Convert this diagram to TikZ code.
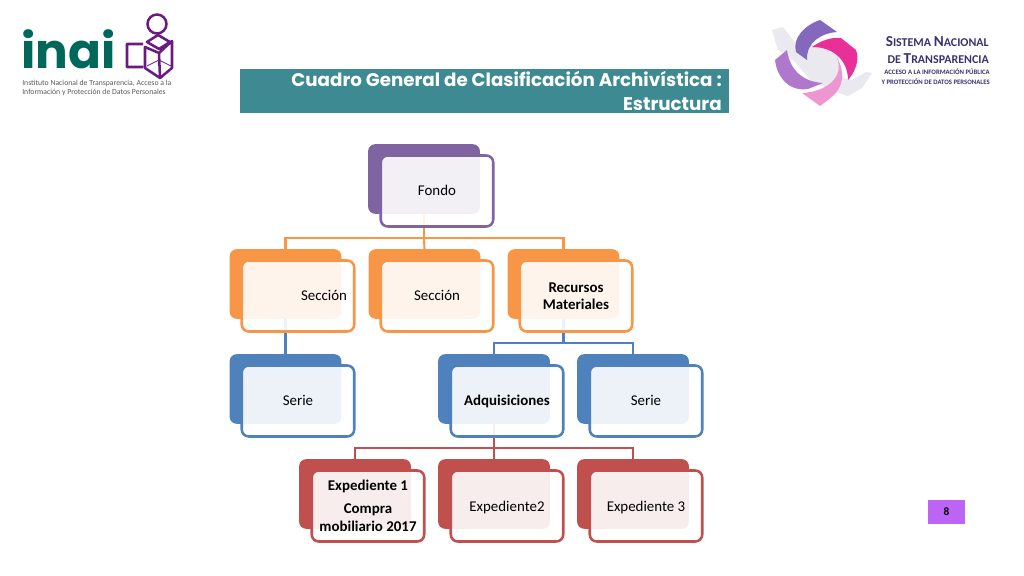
\documentclass[tikz,border=0pt]{standalone}
\usepackage{fontspec}
\setmainfont{Carlito}
\newfontfamily\titlefont{Poppins}
\usetikzlibrary{%
	positioning,%
	calc
}
\definecolor{fondocol}{RGB}{128,100,162}
\definecolor{seccioncol}{RGB}{247,150,70}
\definecolor{seriecol}{RGB}{79,129,189}
\definecolor{expedcol}{RGB}{192,80,77}
\definecolor{inaigreen}{RGB}{0,104,90}
\definecolor{inaipurple}{RGB}{106,27,130}
\definecolor{titlebar}{RGB}{62,138,146}
\definecolor{snnavy}{RGB}{60,48,112}
\definecolor{pagepurple}{RGB}{190,100,245}
\definecolor{wheela}{RGB}{132,104,190}
\definecolor{wheelb}{RGB}{232,48,150}
\definecolor{wheelc}{RGB}{176,120,205}
\definecolor{wheeld}{RGB}{238,150,208}
\definecolor{mappale}{RGB}{233,233,239}
\tikzset{
	backcard/.style={fill=#1,rounded corners=5pt,minimum width=79.5pt,minimum height=49.5pt,inner sep=0pt},
	frontcard/.style={draw=#1,line width=1.8pt,fill=white,fill opacity=.9,text opacity=1,rounded corners=5pt,
		minimum width=80pt,minimum height=50.5pt,inner sep=0pt,align=center,font=\fontsize{10.6}{12.4}\selectfont},
	link/.style={draw=#1,line width=1.5pt},
	pinwheel/.style={fill=#1,draw=none},
}
% back card, then name of the front one
\newcommand{\backcard}[4]{\node[backcard=#4] (#1) at (#2,#3) {};}
\newcommand{\frontcard}[5]{\node[frontcard=#4] (#1) at (#2,#3) {#5};}
\newcommand{\cardline}[2]{\raisebox{-#1pt}[0pt][0pt]{#2}}
\newcommand{\sntcap}[1]{{\fontsize{10.8}{12}\selectfont #1}}
\begin{document}
\begin{tikzpicture}[x=0.025cm,y=-0.025cm]
	\useasboundingbox (0,0) rectangle (1024,576);

	% Back cards
	\backcard{fondoB}{424}{179}{fondocol}
	\backcard{secaB}{285.5}{284}{seccioncol}
	\backcard{secbB}{424.5}{284}{seccioncol}
	\backcard{reccB}{563.5}{284}{seccioncol}
	\backcard{seraB}{285.5}{389}{seriecol}
	\backcard{adqB}{494}{389}{seriecol}
	\backcard{serbB}{633}{389}{seriecol}
	\backcard{expaB}{355}{494}{expedcol}
	\backcard{expbB}{494}{494}{expedcol}
	\backcard{expcB}{633}{494}{expedcol}

	% Connectors
	\draw[link=seccioncol] (fondoB.south) -- ++(0,24) coordinate (busa);
	\draw[link=seccioncol] (secaB.north) |- (busa) -| (reccB.north);
	\draw[link=seccioncol] (busa) -- (secbB.north);
	\draw[link=seriecol] (secaB.south) -- (seraB.north);
	\draw[link=seriecol] (reccB.south) -- ++(0,24) coordinate (busb);
	\draw[link=seriecol] (adqB.north) |- (busb) -| (serbB.north);
	\draw[link=expedcol] (adqB.south) -- ++(0,24) coordinate (busc);
	\draw[link=expedcol] (expaB.north) |- (busc) -| (expcB.north);
	\draw[link=expedcol] (busc) -- (expbB.north);

	% Front cards
	\frontcard{fondo}{437}{191}{fondocol}{\cardline{3.4}{Fondo}}
	\frontcard{seca}{298}{296}{seccioncol}{\hspace*{37pt}\cardline{3.4}{Sección}}
	\frontcard{secb}{437}{296}{seccioncol}{\cardline{3.4}{Sección}}
	\frontcard{recc}{576}{296}{seccioncol}{\textbf{Recursos}\\[-.5pt]\textbf{Materiales}}
	\frontcard{sera}{298}{401}{seriecol}{\cardline{3.4}{Serie}}
	\frontcard{adq}{507}{401}{seriecol}{\cardline{3.4}{\textbf{Adquisiciones}}}
	\frontcard{serb}{646}{401}{seriecol}{\cardline{3.4}{Serie}}
	\frontcard{expa}{368}{506}{expedcol}{\textbf{Expediente 1}\\[4pt]\textbf{Compra}\\\textbf{mobiliario 2017}}
	\frontcard{expb}{507}{506}{expedcol}{\cardline{4.1}{Expediente2}}
	\frontcard{expc}{646}{506}{expedcol}{\cardline{4.1}{Expediente 3}}

	% Title
	\node[fill=titlebar,minimum width=347.5pt,minimum height=31.4pt,inner sep=0pt] (titlebox) at (484.5,91) {};
	\node[text=white,align=right,anchor=east,inner sep=0pt,font=\titlefont\bfseries\fontsize{13}{17}\selectfont] (titletxt) at (722,91)
		{Cuadro General de Clasificación Archivística :\\Estructura};

	% Page number
	\node[fill=pagepurple,minimum width=26.5pt,minimum height=17pt,inner sep=0pt,font=\bfseries\fontsize{8}{10}\selectfont] (pagebox) at (946.5,512) {8};

	% INAI logo
	\node[text=inaigreen,font=\titlefont\bfseries\fontsize{34.5}{35}\selectfont,anchor=base west,inner sep=0pt] (inaiword) at (21,69) {inai};
	\draw[inaipurple,line width=1.8pt] (157,24) circle (9.5);
	\draw[inaipurple,line width=1.8pt,line join=round]
		(143,44) -- (127,44) -- (127,67) -- (143,67)
		(147,42) -- (158,35) -- (170,42) -- (159,49) -- cycle
		(145,47) -- (145,68) -- (160,78) -- (159,53) -- cycle
		(159,53) -- (172,41) -- (172,68) -- (160,78);
	\draw[inaipurple,line width=.6pt] (147,66) -- (159,60) -- (171,66);
	\node[text=black!65,align=left,anchor=north west,inner sep=0pt,font=\fontsize{5.5}{6.6}\selectfont] (inaitxt) at (22,80)
		{Instituto Nacional de Transparencia, Acceso a la\\Información y Protección de Datos Personales};

	% SNT logo
	\fill[mappale] (772,30) -- (783,27) -- (797,45) -- (815,45) -- (838,55) -- (843,78) -- (852,80) -- (866,72) -- (872,73) -- (862,88) -- (848,96) -- (835,92) -- (810,80) -- (795,62) -- (778,50) -- cycle;
	\fill[pinwheel=wheela] (796,52) .. controls (792,38) and (805,25) .. (820,20) -- (837,32) .. controls (822,33) and (806,42) .. (807,60) -- cycle;
	\fill[pinwheel=wheelb] (812,47) .. controls (822,40) and (832,37) .. (841,38) -- (856,50) .. controls (860,60) and (855,72) .. (848,80) .. controls (848,62) and (835,47) .. (812,47) -- cycle;
	\fill[pinwheel=wheelc] (787,50) -- (775,60) .. controls (777,78) and (790,92) .. (808,89) -- (823,83) .. controls (805,82) and (790,72) .. (787,50) -- cycle;
	\fill[pinwheel=wheeld] (837,58) .. controls (845,72) and (845,88) .. (828,100) -- (820,106) -- (802,93) .. controls (825,92) and (845,78) .. (837,58) -- cycle;
	\node[text=snnavy,anchor=east,align=right,inner sep=0pt,font=\bfseries\fontsize{8.5}{12}\selectfont] (sntname) at (989,50)
		{\sntcap{S}ISTEMA \sntcap{N}ACIONAL\\DE \sntcap{T}RANSPARENCIA};
	\node[text=snnavy,anchor=east,align=right,inner sep=0pt,font=\bfseries\fontsize{4.8}{7.2}\selectfont] (sntsub) at (990,77)
		{ACCESO A LA INFORMACIÓN PÚBLICA\\Y PROTECCIÓN DE DATOS PERSONALES};
\end{tikzpicture}
\end{document}
